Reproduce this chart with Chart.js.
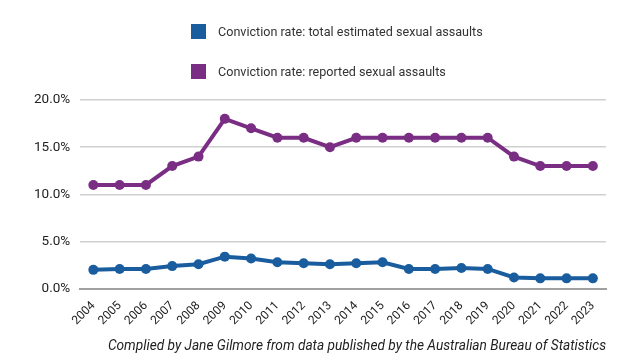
<!DOCTYPE html>
<html>
<head>
<meta charset="utf-8">
<script src="https://cdn.jsdelivr.net/npm/chart.js@4"></script>
<style>
  html, body { margin: 0; padding: 0; background: #fff; }
  #wrap { position: relative; width: 642px; height: 362px; font-family: Roboto, "Noto Sans", sans-serif; }
  #legend { position: absolute; left: 191px; top: 22px; }
  .item { display: flex; align-items: center; height: 18px; margin-bottom: 22px; font-size: 12.6px; color: #333; }
  .box { width: 15px; height: 15px; margin-right: 12px; }
  #note { position: absolute; right: 36px; top: 337px; font-size: 13.7px; font-style: italic; color: #222; }
</style>
</head>
<body>
<div id="wrap">
  <canvas id="chart" width="642" height="362"></canvas>
  <div id="legend"></div>
  <div id="note">Complied by Jane Gilmore from data published by the Australian Bureau of Statistics</div>
</div>
<script>
// ========= DATA ==========
const years = ["2004", "2005", "2006", "2007", "2008", "2009", "2010", "2011", "2012", "2013",
  "2014", "2015", "2016", "2017", "2018", "2019", "2020", "2021", "2022", "2023"];
const totalEstimated = [2.0, 2.1, 2.1, 2.4, 2.6, 3.4, 3.2, 2.8, 2.7, 2.6,
  2.7, 2.8, 2.1, 2.1, 2.2, 2.1, 1.2, 1.1, 1.1, 1.1];
const reported = [11, 11, 11, 13, 14, 18, 17, 16, 16, 15,
  16, 16, 16, 16, 16, 16, 14, 13, 13, 13];
const yTicks = [0, 5, 10, 15, 20];

const blue = "#1a5d9e";
const purple = "#7a2e83";

const datasets = [
  { label: "Conviction rate: total estimated sexual assaults", data: totalEstimated, color: blue },
  { label: "Conviction rate: reported sexual assaults", data: reported, color: purple }
].map((d) => ({
  label: d.label,
  data: d.data,
  borderColor: d.color,
  backgroundColor: d.color,
  pointBackgroundColor: d.color,
  borderWidth: 4,
  pointRadius: 5,
  pointBorderWidth: 0,
  tension: 0
}));

// ========= LEGEND ==========
const legend = document.getElementById("legend");
datasets.forEach((d) => {
  const row = document.createElement("div");
  row.className = "item";
  row.innerHTML = `<span class="box" style="background:${d.borderColor}"></span>${d.label}`;
  legend.appendChild(row);
});

// ========= CHART ==========
new Chart(document.getElementById("chart"), {
  type: "line",
  data: { labels: years, datasets },
  options: {
    responsive: false,
    animation: false,
    layout: { padding: { top: 100, right: 36, bottom: 32, left: 24 } },
    plugins: { legend: { display: false }, tooltip: { enabled: false } },
    scales: {
      x: {
        offset: true,
        grid: { display: false },
        border: { color: "#a0a0a0", width: 2 },
        ticks: {
          color: "#222",
          font: { family: "Roboto", size: 12 },
          maxRotation: 45,
          minRotation: 45,
          autoSkip: false,
          padding: 2
        }
      },
      y: {
        min: 0,
        max: 20,
        afterBuildTicks: (axis) => { axis.ticks = yTicks.map((v) => ({ value: v })); },
        grid: { color: "#d0d0d0", lineWidth: 1.5, drawTicks: false },
        border: { display: false },
        ticks: {
          color: "#222",
          font: { family: "Roboto", size: 13.5 },
          padding: 10,
          callback: (v) => v.toFixed(1) + "%"
        }
      }
    }
  }
});
</script>
</body>
</html>
